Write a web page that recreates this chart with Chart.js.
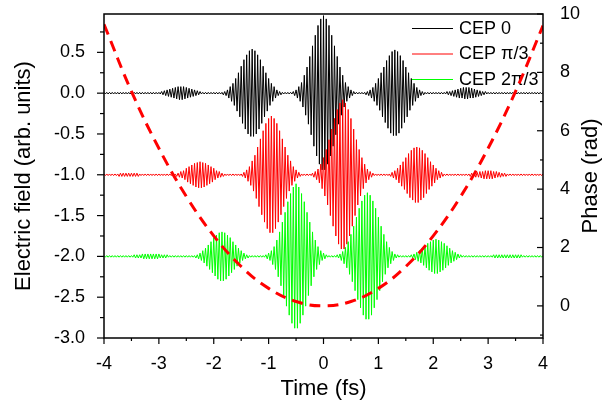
<!DOCTYPE html>
<html lang="en">
<head>
  <meta charset="UTF-8">
  <title>CEP pulses</title>
  <script src="https://cdn.jsdelivr.net/npm/chart.js@4.4.0/dist/chart.umd.min.js"></script>
  <style>
    body { margin: 0; background: #fff; }
  </style>
</head>
<body>
  <canvas id="chart" width="603" height="410"></canvas>

  <script>
    // field samples: crest, trough, crest ... one every 0.025 fs from -4 fs
    const timeStart = -4
    const timeStep = 0.025

    const traceNames = ["CEP 0", "CEP \u03c0/3", "CEP 2\u03c0/3"]
    const traceColors = ["#000000", "#ff0000", "#00ff00"]
    const traceOffsets = [0, -1, -2]

    const fieldCep0 = [
      0.01,-0.01,0.01,-0.01,0.01,-0.01,0.01,-0.01,0.01,-0.01,0.01,-0.01,0.01,-0.01,0.01,-0.01,0.01,-0.01,0.01,-0.01,0.01,
      -0.01,0.01,-0.01,0.01,-0.01,0.01,-0.01,0.01,-0.01,0.01,-0.01,0.01,-0.01,0.01,-0.01,0.01,-0.01,0.01,-0.01,0.01,-0.01,
      0.02,-0.02,0.03,-0.03,0.04,-0.04,0.05,-0.05,0.06,-0.06,0.07,-0.07,0.08,-0.08,0.08,-0.08,0.08,-0.07,0.07,-0.06,0.06,-0.05,0.05,-0.04,0.04,-0.03,0.03,-0.02,0.02,
      -0.01,0.01,-0.01,0.01,-0.01,0.01,-0.01,0.01,-0.01,0.01,-0.01,0.01,-0.01,0.01,-0.01,0.01,
      -0.02,0.02,-0.03,0.04,-0.06,0.08,-0.10,0.12,-0.15,0.18,-0.22,0.25,-0.29,0.33,-0.37,0.41,-0.44,0.47,-0.50,0.52,-0.53,0.54,
      -0.53,0.52,-0.50,0.47,-0.44,0.41,-0.37,0.33,-0.29,0.25,-0.22,0.18,-0.15,0.12,-0.10,0.08,-0.06,0.04,-0.03,0.02,-0.02,0.01,-0.01,
      0.01,-0.01,0.01,-0.01,0.01,-0.01,
      0.02,-0.03,0.04,-0.06,0.08,-0.10,0.13,-0.17,0.22,-0.27,0.32,-0.38,0.45,-0.51,0.58,-0.65,0.71,-0.77,0.83,-0.87,0.91,-0.94,0.95,
      -0.94,0.91,-0.87,0.83,-0.77,0.71,-0.65,0.58,-0.51,0.45,-0.38,0.32,-0.27,0.22,-0.17,0.13,-0.10,0.08,-0.06,0.04,-0.03,0.02,
      -0.01,0.01,-0.01,0.01,-0.01,0.01,-0.01,0.01,
      -0.02,0.02,-0.03,0.04,-0.06,0.07,-0.10,0.12,-0.15,0.18,-0.21,0.25,-0.29,0.32,-0.36,0.40,-0.43,0.46,-0.49,0.51,-0.52,0.53,
      -0.52,0.51,-0.49,0.46,-0.43,0.40,-0.36,0.32,-0.29,0.25,-0.21,0.18,-0.15,0.12,-0.10,0.07,-0.06,0.04,-0.03,0.02,-0.02,
      0.01,-0.01,0.01,-0.01,0.01,-0.01,0.01,-0.01,0.01,-0.01,0.01,-0.01,0.01,-0.01,0.01,-0.01,
      0.02,-0.02,0.02,-0.03,0.03,-0.04,0.04,-0.05,0.05,-0.06,0.06,-0.06,0.07,-0.07,0.07,-0.07,0.07,-0.06,0.06,-0.06,0.05,-0.05,0.04,-0.04,0.03,-0.03,0.02,-0.02,0.02,
      -0.01,0.01,-0.01,0.01,-0.01,0.01,-0.01,0.01,-0.01,0.01,-0.01,0.01,-0.01,0.01,-0.01,0.01,-0.01,0.01,-0.01,0.01,-0.01,
      0.01,-0.01,0.01,-0.01,0.01,-0.01,0.01,-0.01,0.01,-0.01,0.01,-0.01,0.01,-0.01,0.01,-0.01,0.01,-0.01,0.01,-0.01,0.01
    ]

    const fieldCep60 = [
      0.01,-0.01,0.01,-0.01,0.01,-0.01,0.01,-0.01,0.01,-0.01,0.01,
      -0.02,0.02,-0.02,0.02,-0.02,0.02,-0.02,0.02,-0.02,0.02,-0.02,0.02,-0.02,0.02,-0.02,
      0.01,-0.01,0.01,-0.01,0.01,-0.01,0.01,-0.01,0.01,-0.01,0.01,-0.01,0.01,-0.01,0.01,-0.01,0.01,-0.01,0.01,-0.01,0.01,-0.01,0.01,-0.01,0.01,-0.01,0.01,
      -0.02,0.02,-0.03,0.04,-0.04,0.05,-0.06,0.08,-0.09,0.10,-0.11,0.12,-0.13,0.14,-0.15,0.15,-0.16,0.16,
      -0.16,0.15,-0.15,0.14,-0.13,0.12,-0.11,0.10,-0.09,0.08,-0.06,0.05,-0.04,0.04,-0.03,0.02,-0.02,
      0.01,-0.01,0.01,-0.01,0.01,-0.01,0.01,-0.01,0.01,-0.01,0.01,-0.01,0.01,
      -0.02,0.03,-0.04,0.06,-0.08,0.10,-0.13,0.17,-0.20,0.24,-0.29,0.34,-0.39,0.44,-0.49,0.54,-0.58,0.63,-0.66,0.69,-0.71,0.72,
      -0.71,0.69,-0.66,0.63,-0.58,0.54,-0.49,0.44,-0.39,0.34,-0.29,0.24,-0.20,0.17,-0.13,0.10,-0.08,0.06,-0.04,0.03,-0.02,
      0.01,-0.01,0.01,-0.01,0.01,-0.01,0.01,-0.01,
      0.02,-0.03,0.04,-0.06,0.07,-0.10,0.13,-0.17,0.21,-0.26,0.31,-0.37,0.43,-0.50,0.56,-0.63,0.69,-0.75,0.80,-0.85,0.88,-0.91,0.92,
      -0.91,0.88,-0.85,0.80,-0.75,0.69,-0.63,0.56,-0.50,0.43,-0.37,0.31,-0.26,0.21,-0.17,0.13,-0.10,0.07,-0.06,0.04,-0.03,0.02,
      -0.01,0.01,-0.01,0.01,-0.01,0.01,-0.01,0.01,-0.01,0.01,-0.01,0.01,
      -0.02,0.03,-0.04,0.05,-0.06,0.08,-0.10,0.12,-0.14,0.16,-0.18,0.21,-0.23,0.26,-0.28,0.30,-0.31,0.33,-0.34,0.34,
      -0.34,0.33,-0.31,0.30,-0.28,0.26,-0.23,0.21,-0.18,0.16,-0.14,0.12,-0.10,0.08,-0.06,0.05,-0.04,0.03,-0.02,
      0.01,-0.01,0.01,-0.01,0.01,-0.01,0.01,-0.01,0.01,-0.01,0.01,-0.01,0.01,-0.01,0.01,-0.01,0.01,-0.01,0.01,
      -0.02,0.02,-0.02,0.02,-0.03,0.03,-0.03,0.04,-0.04,0.04,-0.05,0.05,-0.05,0.05,
      -0.05,0.05,-0.05,0.04,-0.04,0.04,-0.03,0.03,-0.03,0.02,-0.02,0.02,-0.02,
      0.01,-0.01,0.01,-0.01,0.01,-0.01,0.01,-0.01,0.01,-0.01,0.01,-0.01,0.01,-0.01,0.01,-0.01,0.01,-0.01,0.01,-0.01,0.01,-0.01,0.01,-0.01,0.01,-0.01,0.01
    ]

    const fieldCep120 = [
      0.01,-0.01,0.01,-0.01,0.01,-0.01,0.01,-0.01,0.01,-0.01,0.01,-0.01,0.01,-0.01,0.01,-0.01,0.01,-0.01,0.01,-0.01,0.01,-0.01,
      0.02,-0.02,0.02,-0.02,0.02,-0.02,
      0.03,-0.03,0.03,-0.03,0.03,-0.03,0.03,-0.03,0.03,-0.03,0.03,-0.03,0.03,
      -0.02,0.02,-0.02,0.02,-0.02,0.02,
      -0.01,0.01,-0.01,0.01,-0.01,0.01,-0.01,0.01,-0.01,0.01,-0.01,0.01,-0.01,0.01,-0.01,0.01,-0.01,0.01,-0.01,0.01,
      -0.02,0.02,-0.03,0.04,-0.05,0.07,-0.08,0.10,-0.12,0.14,-0.16,0.18,-0.20,0.23,-0.24,0.26,-0.28,0.29,-0.30,0.30,
      -0.30,0.29,-0.28,0.26,-0.24,0.23,-0.20,0.18,-0.16,0.14,-0.12,0.10,-0.08,0.07,-0.05,0.04,-0.03,0.02,-0.02,
      0.01,-0.01,0.01,-0.01,0.01,-0.01,0.01,-0.01,0.01,-0.01,0.01,-0.01,
      0.02,-0.03,0.04,-0.05,0.07,-0.10,0.12,-0.16,0.20,-0.25,0.30,-0.36,0.42,-0.48,0.54,-0.61,0.67,-0.72,0.77,-0.82,0.85,-0.88,0.89,
      -0.88,0.85,-0.82,0.77,-0.72,0.67,-0.61,0.54,-0.48,0.42,-0.36,0.30,-0.25,0.20,-0.16,0.12,-0.10,0.07,-0.05,0.04,-0.03,0.02,
      -0.01,0.01,-0.01,0.01,-0.01,0.01,-0.01,
      0.02,-0.02,0.03,-0.05,0.06,-0.09,0.11,-0.14,0.18,-0.22,0.27,-0.31,0.37,-0.42,0.48,-0.53,0.59,-0.63,0.68,-0.72,0.75,-0.77,0.78,
      -0.77,0.75,-0.72,0.68,-0.63,0.59,-0.53,0.48,-0.42,0.37,-0.31,0.27,-0.22,0.18,-0.14,0.11,-0.09,0.06,-0.05,0.03,-0.02,0.02,
      -0.01,0.01,-0.01,0.01,-0.01,0.01,-0.01,0.01,-0.01,
      0.02,-0.02,0.03,-0.04,0.05,-0.06,0.07,-0.08,0.10,-0.11,0.13,-0.14,0.16,-0.17,0.18,-0.19,0.20,-0.21,0.21,
      -0.21,0.20,-0.19,0.18,-0.17,0.16,-0.14,0.13,-0.11,0.10,-0.08,0.07,-0.06,0.05,-0.04,0.03,-0.02,0.02,
      -0.01,0.01,-0.01,0.01,-0.01,0.01,-0.01,0.01,-0.01,0.01,-0.01,0.01,-0.01,0.01,-0.01,0.01,-0.01,0.01,-0.01,0.01,-0.01,0.01,-0.01,
      0.02,-0.02,0.02,-0.02,0.02,-0.02,0.02,-0.02,0.02,-0.02,0.02,-0.02,0.02,-0.02,0.02,-0.02,0.02,-0.02,0.02,-0.02,0.02,
      -0.01,0.01,-0.01,0.01,-0.01,0.01,-0.01,0.01,-0.01,0.01,-0.01,0.01,-0.01,0.01,-0.01,0.01
    ]

    const phaseTime = [-4, -3.5, -3, -2.5, -2, -1.5, -1, -0.5, 0, 0.5, 1, 1.5, 2, 2.5, 3, 3.5, 4]
    const phaseRad = [9.65, 7.35, 5.4, 3.75, 2.4, 1.35, 0.6, 0.15, 0, 0.15, 0.6, 1.35, 2.4, 3.75, 5.4, 7.35, 9.6]

    const timeTicks = [-4, -3, -2, -1, 0, 1, 2, 3, 4]
    const timeMinor = [-3.5, -2.5, -1.5, -0.5, 0.5, 1.5, 2.5, 3.5]
    const fieldTicks = [-3, -2.5, -2, -1.5, -1, -0.5, 0, 0.5]
    const fieldMinor = [-2.75, -2.25, -1.75, -1.25, -0.75, -0.25, 0.25, 0.75]
    const phaseTicks = [0, 2, 4, 6, 8, 10]
    const phaseMinor = [-1, 1, 3, 5, 7, 9]

    const fonts = "'Liberation Sans', Arial, sans-serif"
    Chart.defaults.font.family = fonts
    Chart.defaults.font.size = 18
    Chart.defaults.color = "#000"

    const fields = [fieldCep0, fieldCep60, fieldCep120]
    const datasets = [{
      label: "phase",
      yAxisID: "y1",
      data: phaseTime.map((t, i) => ({ x: t, y: phaseRad[i] })),
      borderColor: "#ff0000",
      borderWidth: 3,
      borderDash: [11, 7],
      tension: 0.4,
      pointRadius: 0,
      order: 0
    }]
    // green on top of red on top of black, like the original plot
    fields.forEach((f, k) => {
      datasets.push({
        label: traceNames[k],
        yAxisID: "y",
        data: f.map((v, i) => ({ x: timeStart + i * timeStep, y: v + traceOffsets[k] })),
        borderColor: traceColors[k],
        borderWidth: 1,
        pointRadius: 0,
        tension: 0,
        order: 3 - k
      })
    })

    const setTicks = (values) => (scale) => { scale.ticks = values.map(v => ({ value: v })) }
    // fixed box sizes, and no extra room for the end labels
    const fitY = (w) => (s) => { s.width = w; s.paddingTop = 0; s.paddingBottom = 0 }

    const frame = {
      id: "frame",
      beforeDatasetsDraw(chart) {
        // legend, top right inside the frame
        const ctx = chart.ctx
        ctx.save()
        ctx.font = "18px " + fonts
        ctx.textBaseline = "middle"
        traceNames.forEach((name, k) => {
          const y = 28 + k * 25.5
          ctx.strokeStyle = traceColors[k]
          ctx.lineWidth = 1
          ctx.beginPath()
          ctx.moveTo(412, y + 0.5)
          ctx.lineTo(453, y + 0.5)
          ctx.stroke()
          ctx.fillStyle = "#000"
          ctx.fillText(name, 459, y + 1)
        })
        ctx.restore()
      },
      afterDraw(chart) {
        const { ctx, chartArea: a, scales } = chart
        ctx.save()
        ctx.strokeStyle = "#000"
        ctx.lineWidth = 1.5
        ctx.strokeRect(a.left, a.top, a.right - a.left, a.bottom - a.top)
        ctx.lineWidth = 1.2
        const line = (x1, y1, x2, y2) => { ctx.beginPath(); ctx.moveTo(x1, y1); ctx.lineTo(x2, y2); ctx.stroke() }
        timeTicks.forEach(v => { const p = scales.x.getPixelForValue(v); line(p, a.bottom, p, a.bottom + 6) })
        timeMinor.forEach(v => { const p = scales.x.getPixelForValue(v); line(p, a.bottom, p, a.bottom + 3) })
        fieldTicks.forEach(v => { const p = scales.y.getPixelForValue(v); line(a.left - 7, p, a.left, p) })
        fieldMinor.forEach(v => { const p = scales.y.getPixelForValue(v); line(a.left - 4, p, a.left, p) })
        phaseTicks.forEach(v => { const p = scales.y1.getPixelForValue(v); line(a.right - 6, p, a.right, p) })
        phaseMinor.forEach(v => { const p = scales.y1.getPixelForValue(v); line(a.right - 3, p, a.right, p) })

        // right axis title reads bottom to top
        ctx.translate(591, (a.top + a.bottom) / 2)
        ctx.rotate(-Math.PI / 2)
        ctx.font = "22px " + fonts
        ctx.fillStyle = "#000"
        ctx.textAlign = "center"
        ctx.textBaseline = "middle"
        ctx.fillText("Phase (rad)", 0, 0)
        ctx.restore()
      }
    }

    new Chart(document.getElementById("chart"), {
      type: "line",
      data: { datasets: datasets },
      plugins: [frame],
      options: {
        responsive: false,
        animation: false,
        layout: { padding: { top: 14, left: 0, right: 0, bottom: 0 } },
        plugins: { legend: { display: false }, tooltip: { enabled: false } },
        scales: {
          x: {
            type: "linear",
            min: -4,
            max: 4,
            afterBuildTicks: setTicks(timeTicks),
            afterFit: (s) => { s.height = 72 },
            grid: { display: false },
            border: { display: false },
            ticks: { padding: 7, callback: (v) => String(v) },
            title: { display: true, text: "Time (fs)", font: { size: 22 }, padding: { bottom: 8 } }
          },
          y: {
            position: "left",
            min: -3.0,
            max: 0.97,
            afterBuildTicks: setTicks(fieldTicks),
            afterFit: fitY(104),
            grid: { display: false },
            border: { display: false },
            ticks: { padding: 11, callback: (v) => v.toFixed(1) },
            title: { display: true, text: "Electric field (arb. units)", font: { size: 22 }, padding: { top: 11 } }
          },
          y1: {
            position: "right",
            min: -1.1,
            max: 10,
            afterBuildTicks: setTicks(phaseTicks),
            afterFit: fitY(60),
            grid: { display: false },
            border: { display: false },
            ticks: { padding: 9, callback: (v) => String(v) }
          }
        }
      }
    })
  </script>
</body>
</html>
